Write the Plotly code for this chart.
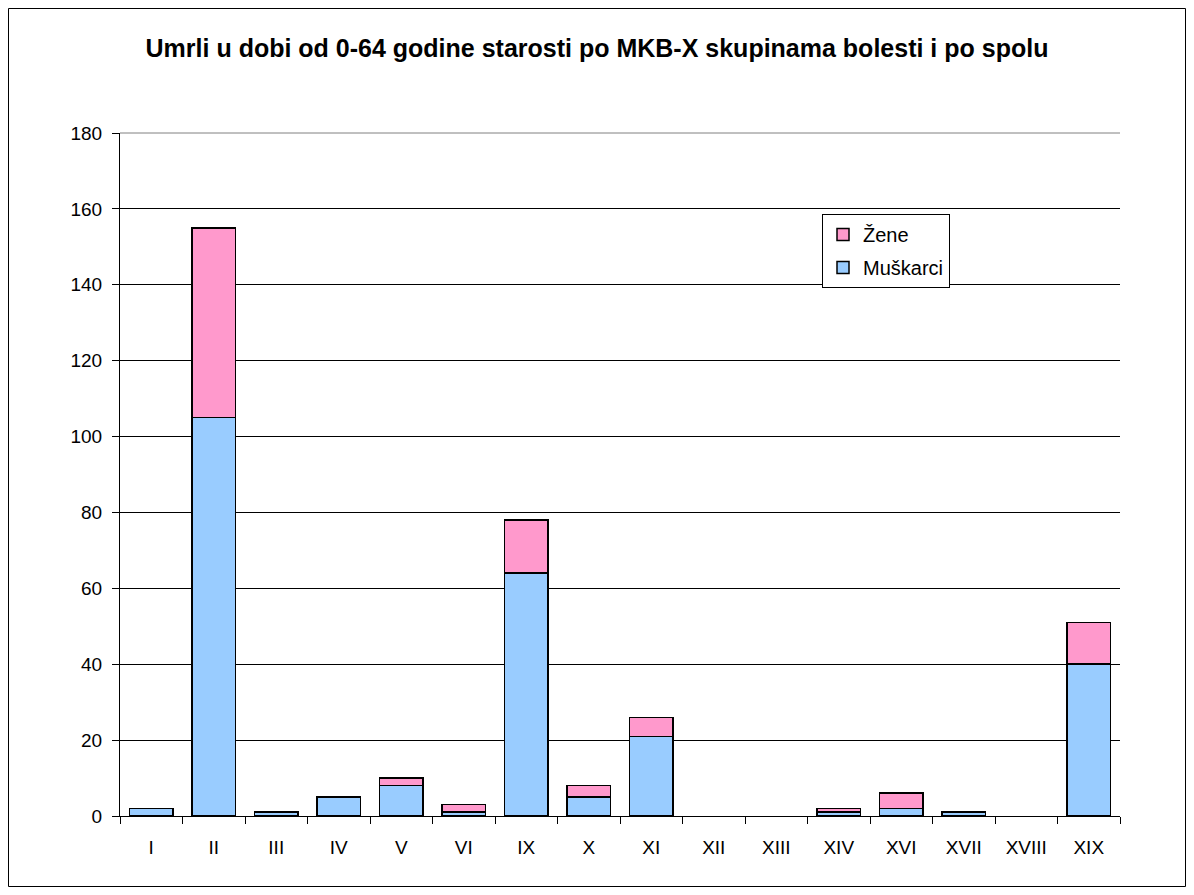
import plotly.graph_objects as go

categories = ["I", "II", "III", "IV", "V", "VI", "IX", "X", "XI", "XII", "XIII", "XIV", "XVI", "XVII", "XVIII", "XIX"]
muskarci = [2, 105, 1, 5, 8, 1, 64, 5, 21, 0, 0, 1, 2, 1, 0, 40]
zene = [0, 50, 0, 0, 2, 2, 14, 3, 5, 0, 0, 1, 4, 0, 0, 11]
y_ticks = [0, 20, 40, 60, 80, 100, 120, 140, 160, 180]

BLUE, PINK = "#99CCFF", "#FF99CC"

# page has an 8px body margin; figure spans page 8..1186 x 8..887
W, H = 1178, 879
OFF = 8
L, R, T, B = 120 - OFF, 1120 - OFF, 133 - OFF, 816 - OFF

fig = go.Figure()
fig.add_trace(go.Bar(x=categories, y=muskarci, name="Muškarci", showlegend=False,
                     marker=dict(color=BLUE,
                                 line=dict(color="black", width=[1.5 if v else 0 for v in muskarci]))))
fig.add_trace(go.Bar(x=categories, y=zene, name="Žene", showlegend=False,
                     marker=dict(color=PINK,
                                 line=dict(color="black", width=[1.5 if v else 0 for v in zene]))))
# legend entries (Žene listed first, as in the reference)
fig.add_trace(go.Bar(x=[None], y=[None], name="Žene", legendgroup="z",
                     marker=dict(color=PINK, line=dict(color="black", width=1.5))))
fig.add_trace(go.Bar(x=[None], y=[None], name="Muškarci", legendgroup="m",
                     marker=dict(color=BLUE, line=dict(color="black", width=1.5))))

fig.update_layout(
    width=W, height=H,
    barmode="stack", bargap=0.3,
    paper_bgcolor="white", plot_bgcolor="white",
    margin=dict(l=L, r=W - R, t=T, b=H - B, pad=0),
    font=dict(family="Liberation Sans, Arial, sans-serif", size=19, color="black"),
    title=dict(text="<b>Umrli u dobi od 0-64 godine starosti po MKB-X skupinama bolesti i po spolu</b>",
               x=0.5, xanchor="center", y=1 - (48 - OFF) / H, yanchor="middle",
               font=dict(size=25, color="black")),
    showlegend=True,
    legend=dict(x=(822 - OFF - L) / (R - L), y=(B - (214 - OFF)) / (B - T), xanchor="left", yanchor="top",
                bgcolor="white", bordercolor="black", borderwidth=1,
                traceorder="grouped", font=dict(size=20),
                itemwidth=30, tracegroupgap=4),
    xaxis=dict(showline=True, linecolor="black", linewidth=1,
               ticks="outside", ticklen=7, tickcolor="black", tickson="boundaries",
               showgrid=False, tickfont=dict(size=19), ticklabelstandoff=14),
    yaxis=dict(range=[0, 180], tickvals=y_ticks, showline=True, linecolor="black", linewidth=1,
               ticks="outside", ticklen=7, tickcolor="black",
               showgrid=True, gridcolor="black", gridwidth=1,
               tickfont=dict(size=19), zeroline=False, ticklabelstandoff=6),
)

# outer chart border
fig.add_shape(type="rect", xref="paper", yref="paper",
              x0=(0.5 - L) / (R - L), x1=(W - 0.5 - L) / (R - L),
              y0=(B - H + 0.5) / (B - T), y1=(B - 0.5) / (B - T),
              line=dict(color="black", width=1), fillcolor="rgba(0,0,0,0)", layer="below")
fig.add_shape(type="line", xref="paper", yref="paper", x0=0, x1=1, y0=1, y1=1,
              line=dict(color="#808080", width=1))

fig.write_html("out.html")
